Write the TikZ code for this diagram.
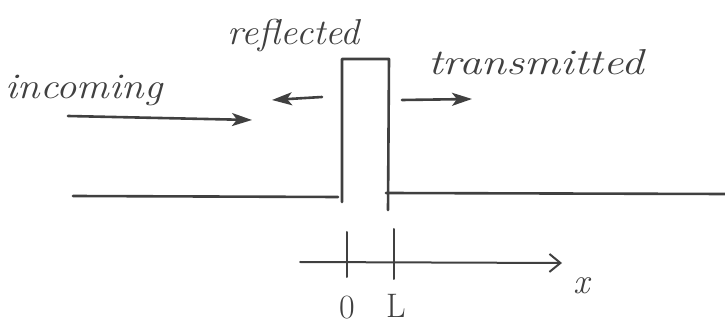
\documentclass[tikz,border=0pt]{standalone}
\usetikzlibrary{arrows.meta}
\definecolor{pencil}{HTML}{404040}
\begin{document}
\begin{tikzpicture}[x=1pt,y=-1pt,
  ink/.style={draw=pencil,line width=2.6pt,line cap=round,line join=round},
  arr/.style={ink,-{Stealth[length=20pt,width=13pt,inset=5pt]}},
  axisarr/.style={ink,line width=2pt,-{Straight Barb[length=11pt,width=18pt]}},
  tick/.style={ink,line width=2pt},
  lbl/.style={text=pencil,inner sep=0pt,font=\itshape\fontsize{36}{40}\selectfont},
  axlbl/.style={text=pencil,inner sep=0pt,font=\fontsize{34}{38}\selectfont}]
\useasboundingbox (0,0) rectangle (725,328);
% labels
\node[lbl] (inc) at (84,90) {\scalebox{1.13}[1]{incoming}};
\node[lbl] (refl) at (294,36) {\scalebox{1.06}[1]{reflected}};
\node[lbl] (trans) at (536,62) {\scalebox{1.25}[1]{transmitted}};
% arrows
\coordinate (incA) at (68,116);
\coordinate (incB) at (252,120);
\coordinate (refA) at (322,97);
\coordinate (refB) at (272,100);
\coordinate (trA) at (402,100);
\coordinate (trB) at (472,99);
\draw[arr] (incA) -- (incB);
\draw[arr] (refA) -- (refB);
\draw[arr] (trA) -- (trB);
% barrier
\coordinate (bl) at (342,202);
\coordinate (tl) at (342,59);
\coordinate (tr) at (389,59);
\coordinate (br) at (388,210);
\draw[ink] (bl) -- (tl) -- (tr) -- (br);
% ground levels
\coordinate (g1) at (73,196);
\coordinate (g2) at (338,197);
\coordinate (g3) at (386,193);
\coordinate (g4) at (725,194);
\draw[ink] (g1) -- (g2);
\draw[ink] (g3) -- (g4);
% axis
\coordinate (ax1) at (300,262);
\coordinate (ax2) at (562,263);
\draw[axisarr] (ax1) -- (ax2);
\coordinate (t0a) at (347,232);
\coordinate (t0b) at (347,277);
\coordinate (tLa) at (394,229);
\coordinate (tLb) at (394,279);
\draw[tick] (t0a) -- (t0b);
\draw[tick] (tLa) -- (tLb);
\node[axlbl] (zero) at (347,308) {0};
\node[axlbl] (ell) at (396,306) {L};
\node[lbl] (xl) at (582,286) {x};
\end{tikzpicture}
\end{document}
